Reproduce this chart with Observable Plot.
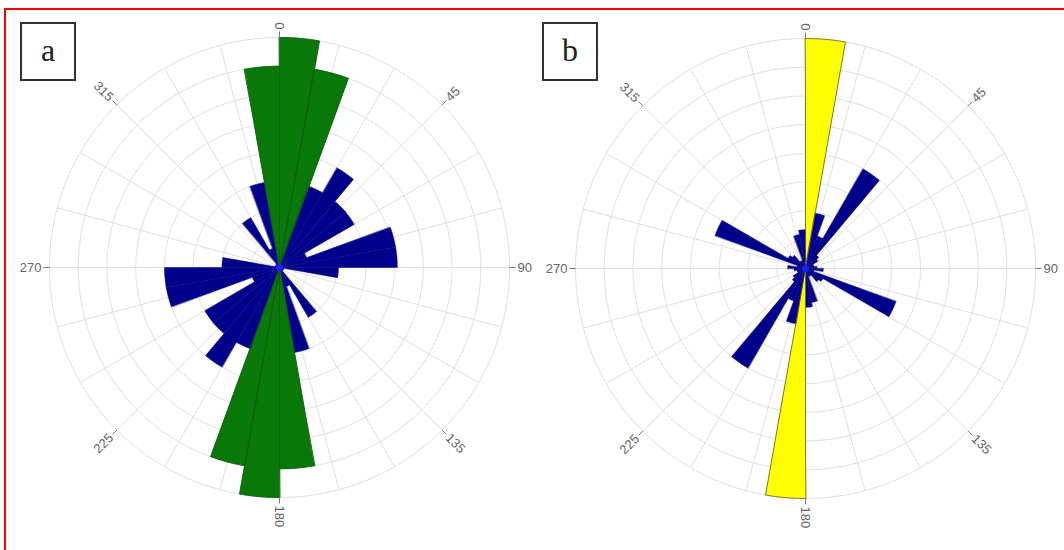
<!DOCTYPE html>
<html><head><meta charset="utf-8">
<script src="https://cdn.jsdelivr.net/npm/d3@7"></script>
<script src="https://cdn.jsdelivr.net/npm/@observablehq/plot@0.6"></script>
<style>
body{margin:0;width:1064px;height:550px;overflow:hidden;background:#fff;position:relative;font-family:"Liberation Sans",Arial,sans-serif}
#frame{position:absolute;left:4px;top:8px;width:1100px;height:600px;border-left:2px solid #f00;border-top:2px solid #f00;box-sizing:border-box}
.panel{position:absolute;top:0}
.tag{position:absolute;width:52px;height:55px;border:2px solid #333;font-family:"Liberation Serif","Times New Roman",serif;font-size:32px;text-align:center;line-height:52px;background:#fff;color:#222}
</style></head><body>
<div id="frame"></div>
<div id="pa" class="panel" style="left:0"></div>
<div id="pb" class="panel" style="left:532px"></div>
<div class="tag" style="left:20px;top:22px">a</div>
<div class="tag" style="left:542px;top:22px">b</div>
<script>
// bin start angles (degrees, compass bearing), 10° bins
const binStarts = [0,10,20,30,40,50,60,70,80,90,100,110,120,130,140,150,160,170,180,190,200,210,220,230,240,250,260,270,280,290,300,310,320,330,340,350];
const binWidth = 10;
// panel a: bar lengths in ring units (8 rings)
const valuesA = [8.0,7.0,3.0,4.0,3.0,3.0,1.0,4.1,4.1,2.05,0.15,0.15,0.15,0.15,2.0,0.7,3.0,7.0,8.0,7.0,3.0,4.0,3.0,3.0,1.0,4.0,4.0,2.0,0.15,0.15,0.15,0.15,2.0,0.7,3.0,7.0];
const highlightA = [0,10,170,180,190,350];
// panel b
const valuesB = [8.0,1.95,1.2,4.0,0.6,0.5,0.3,0.3,0.4,0.62,0.3,3.35,0.7,0.6,0.3,0.3,1.2,1.35,8.0,1.95,1.2,4.0,0.6,0.5,0.3,0.3,0.4,0.62,0.3,3.35,0.7,0.6,0.3,0.3,1.2,1.35];
const highlightB = [0,180];
// grid
const ringValues = [1,2,3,4,5,6,7,8];
const spokeAngles = [0,15,30,45,60,75,90,105,120,135,150,165,180,195,210,225,240,255,270,285,300,315,330,345];
const labelAngles = [0,45,90,135,180,225,270,315];

function rose({values, highlight, hiColor, hiStroke, cx, cy}) {
  const R = 230, nRings = 8, unit = R / nRings, degPerUnit = 10;
  const k = R / (nRings * degPerUnit * Math.PI / 180);
  const proj = d3.geoAzimuthalEquidistant().rotate([0, -90]).translate([cx, cy]).scale(k).precision(0.1);
  const lon = b => 180 - b;
  const latPx = px => 90 - (px / unit) * degPerUnit;
  const bars = binStarts.map((b, i) => ({b, v: values[i], g: highlight.includes(b) ? "max" : "other"}));
  const sector = d => {
    const lat = 90 - d.v * degPerUnit, inner = 89.98, ring = [];
    for (let a = d.b; a <= d.b + binWidth + 1e-9; a += 0.5) ring.push([lon(a), lat]);
    for (let a = d.b + binWidth; a >= d.b - 1e-9; a -= 0.5) ring.push([lon(a), inner]);
    ring.push(ring[0]);
    return {type: "Polygon", coordinates: [ring]};
  };
  return Plot.plot({
    width: 532, height: 550, margin: 0,
    projection: proj,
    color: {domain: ["max", "other"], range: [hiColor, "#00008b"]},
    marks: [
      Plot.geo(ringValues, {geometry: r => d3.geoCircle().center([0, 90]).radius(r * degPerUnit).precision(1)(), fill: "none", stroke: "#e0e0e0", strokeWidth: 1}),
      Plot.link(spokeAngles, {x1: lon, y1: 90, x2: lon, y2: latPx(R), stroke: "#e0e0e0", strokeWidth: 1}),
      Plot.geo(bars, {geometry: sector, fill: "g", stroke: "g", strokeWidth: 0.5}),
      Plot.geo(bars.filter(d => d.g === "max"), {geometry: sector, fill: "none", stroke: hiStroke, strokeWidth: 0.8}),
      Plot.link(labelAngles, {x1: lon, y1: latPx(R), x2: lon, y2: latPx(R + 6), stroke: "#777", strokeWidth: 1}),
      Plot.text(labelAngles.filter(a => a <= 180), {x: lon, y: latPx(R + 8), text: d => String(d), rotate: a => a - 90, textAnchor: "start", fontSize: 13, fill: "#666", fontFamily: "Liberation Sans, Arial, sans-serif"}),
      Plot.text(labelAngles.filter(a => a > 180), {x: lon, y: latPx(R + 8), text: d => String(d), rotate: a => a - 270, textAnchor: "end", fontSize: 13, fill: "#666", fontFamily: "Liberation Sans, Arial, sans-serif"}),
      Plot.dot([0], {x: 0, y: 90, r: 3.5, fill: "#1f1fff", stroke: "none"})
    ]
  });
}

document.getElementById("pa").append(rose({values: valuesA, highlight: highlightA, hiColor: "#087808", hiStroke: "#0b5a0b", cx: 279, cy: 267}));
document.getElementById("pb").append(rose({values: valuesB, highlight: highlightB, hiColor: "#ffff00", hiStroke: "#555533", cx: 273, cy: 268}));
</script>
</body></html>
